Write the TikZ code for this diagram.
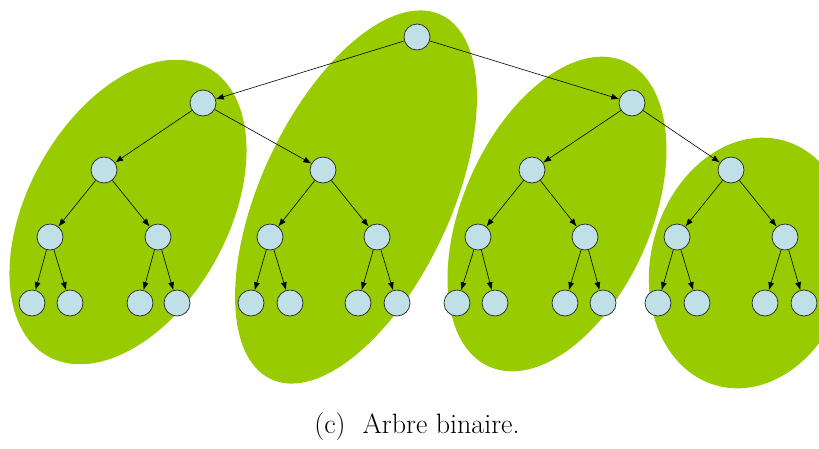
\documentclass[tikz,border=0pt]{standalone}
\usetikzlibrary{arrows.meta}
\definecolor{leafgreen}{RGB}{153,204,0}
\definecolor{nodeblue}{RGB}{190,224,230}
\tikzset{
  tnode/.style={circle, draw=black!85, line width=0.7pt, fill=nodeblue, minimum size=26pt, inner sep=0pt},
  tedge/.style={-{Latex[length=8pt,width=6pt]}, line width=0.6pt, black},
  blob/.style={fill=leafgreen}
}
\begin{document}
\begin{tikzpicture}[x=1pt,y=-1pt]
\useasboundingbox (0,0) rectangle (819,448);
\begin{scope}
\clip (0,0) rectangle (819,448);
\fill[blob, rotate around={61:(128,212)}] (128,212) ellipse [x radius=165, y radius=100];
\fill[blob, rotate around={65:(356,197)}] (356,197) ellipse [x radius=201, y radius=95];
\fill[blob, rotate around={66:(557,214)}] (557,214) ellipse [x radius=167, y radius=94];
\fill[blob, rotate around={75:(750,263)}] (750,263) ellipse [x radius=127, y radius=99];
\end{scope}
\node[tnode] (r) at (417,37) {};
\node[tnode] (n0) at (203,103) {};
\node[tnode] (n1) at (632,103) {};
\node[tnode] (n00) at (104,170) {};
\node[tnode] (n01) at (323,170) {};
\node[tnode] (n10) at (532,170) {};
\node[tnode] (n11) at (731,170) {};
\node[tnode] (n000) at (50,237) {};
\node[tnode] (n001) at (158,237) {};
\node[tnode] (n010) at (270,237) {};
\node[tnode] (n011) at (377,237) {};
\node[tnode] (n100) at (478,237) {};
\node[tnode] (n101) at (585,237) {};
\node[tnode] (n110) at (677,237) {};
\node[tnode] (n111) at (785,237) {};
\node[tnode] (n0000) at (32,303) {};
\node[tnode] (n0001) at (70,303) {};
\node[tnode] (n0010) at (140,303) {};
\node[tnode] (n0011) at (177,303) {};
\node[tnode] (n0100) at (251,303) {};
\node[tnode] (n0101) at (290,303) {};
\node[tnode] (n0110) at (358,303) {};
\node[tnode] (n0111) at (397,303) {};
\node[tnode] (n1000) at (457,303) {};
\node[tnode] (n1001) at (495,303) {};
\node[tnode] (n1010) at (565,303) {};
\node[tnode] (n1011) at (603,303) {};
\node[tnode] (n1100) at (658,303) {};
\node[tnode] (n1101) at (697,303) {};
\node[tnode] (n1110) at (765,303) {};
\node[tnode] (n1111) at (804,303) {};
\foreach \p/\c in {r/n0, r/n1,
  n0/n00, n0/n01, n1/n10, n1/n11,
  n00/n000, n00/n001, n01/n010, n01/n011, n10/n100, n10/n101, n11/n110, n11/n111,
  n000/n0000, n000/n0001, n001/n0010, n001/n0011, n010/n0100, n010/n0101, n011/n0110, n011/n0111,
  n100/n1000, n100/n1001, n101/n1010, n101/n1011, n110/n1100, n110/n1101, n111/n1110, n111/n1111}
  \draw[tedge] (\p) -- (\c);
\node[font=\fontsize{28}{32}\selectfont] (cap) at (417,427) {(c)\ \ Arbre binaire.};
\end{tikzpicture}
\end{document}
